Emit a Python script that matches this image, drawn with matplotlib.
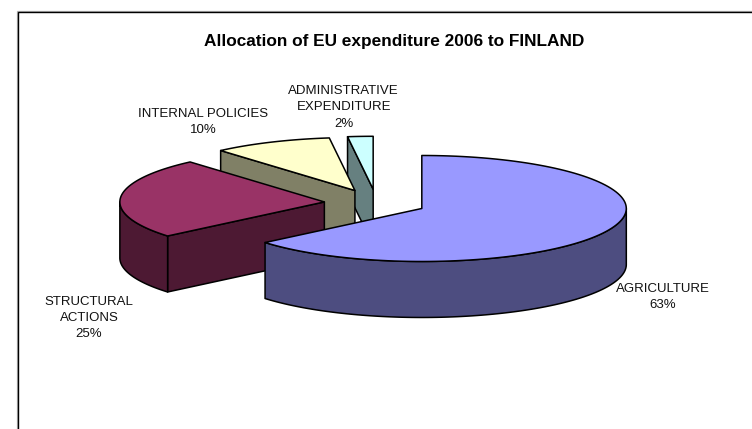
import numpy as np
import matplotlib
matplotlib.use("Agg")
import matplotlib.pyplot as plt
from matplotlib.patches import Polygon

# data
categories = ["AGRICULTURE", "STRUCTURAL\nACTIONS", "INTERNAL POLICIES", "ADMINISTRATIVE\nEXPENDITURE"]
percent_labels = ["63%", "25%", "10%", "2%"]
shares = [63.9, 24.7, 9.4, 2.0]

# style
top_colors = ["#9999FF", "#993366", "#FFFFCC", "#CCFFFF"]
wall_colors = ["#4D4D80", "#4D1933", "#808066", "#668080"]
explode_px = [50, 52.3, 52.8, 53]
label_xy = [(662.7, 297), (89, 318), (203, 121.7), (343.7, 107.5)]
W, H = 752, 429
CX, CY = 376.5, 203
RX, RY = 204.5, 53
DEPTH = 56

fig = plt.figure(figsize=(W / 100, H / 100), dpi=100)
ax = fig.add_axes([0, 0, 1, 1])
ax.set_xlim(0, W)
ax.set_ylim(H, 0)
ax.axis("off")
plt.rcParams["font.family"] = ["Liberation Sans", "DejaVu Sans"]

# chart-area frame (grey highlight + black line)
ax.plot([16.5, 16.5, W], [H, 10.5, 10.5], color="#B0B0B0", lw=0.9, solid_joinstyle="miter")
ax.plot([17.5, 17.5, W], [H, 11.5, 11.5], color="black", lw=1.0, solid_joinstyle="miter")


def rim(cx, cy, a0, a1, n=120):
    t = np.radians(np.linspace(a0, a1, n))
    return np.column_stack([cx + RX * np.sin(t), cy - RY * np.cos(t)])


edges = np.concatenate([[0], np.cumsum(shares)]) / sum(shares) * 360
order = range(len(shares) - 1, -1, -1)
for i in order:
    a0, a1 = edges[i], edges[i + 1]
    mid = np.radians((a0 + a1) / 2)
    cx = CX + explode_px[i] * np.sin(mid)
    cy = CY - explode_px[i] * RY / RX * np.cos(mid)
    apex = np.array([[cx, cy]])
    down = np.array([0, DEPTH])
    kw = dict(facecolor=wall_colors[i], edgecolor="black", lw=1.1, joinstyle="round")

    # flat cut face at the start of the wedge, if it faces the viewer
    if np.cos(np.radians(a0 - 90)) < -1e-6:
        p = rim(cx, cy, a0, a0, 2)[:1]
        ax.add_patch(Polygon(np.vstack([apex, p, p + down, apex + down]), **kw))
    # flat cut face at the end of the wedge, if it faces the viewer
    if np.cos(np.radians(a1 + 90)) < -1e-6:
        p = rim(cx, cy, a1, a1, 2)[:1]
        ax.add_patch(Polygon(np.vstack([apex, p, p + down, apex + down]), **kw))
    # curved outer wall: the front half of the rim only
    lo, hi = max(a0, 90), min(a1, 270)
    if hi > lo:
        r = rim(cx, cy, lo, hi)
        ax.add_patch(Polygon(np.vstack([r, (r + down)[::-1]]), **kw))
    # top face
    ax.add_patch(Polygon(np.vstack([apex, rim(cx, cy, a0, a1)]),
                         facecolor=top_colors[i], edgecolor="black", lw=1.1, joinstyle="round"))

for cat, pct, (x, y) in zip(categories, percent_labels, label_xy):
    ax.text(x, y, f"{cat}\n{pct}", ha="center", va="center", fontsize=9.57,
            linespacing=1.47, color="#111111")

ax.text(394.5, 41.5, "Allocation of EU expenditure 2006 to FINLAND", ha="center", va="center",
        fontsize=12.44, fontweight="bold", color="black")

fig.savefig("out.png", dpi=100)
